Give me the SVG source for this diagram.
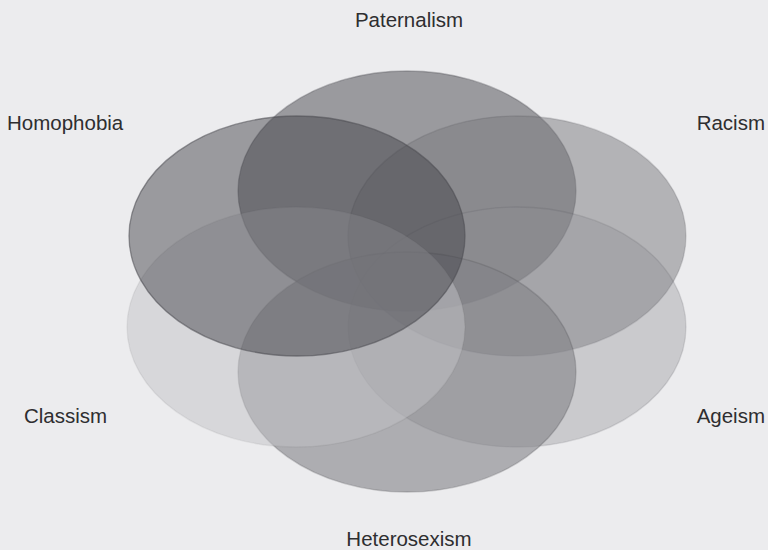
<svg xmlns="http://www.w3.org/2000/svg" width="768" height="550" viewBox="0 0 768 550">
<style>
.set{stroke:#4a4a50;stroke-width:1.3}
.lbl{font-family:"Liberation Sans",Arial,sans-serif;font-size:20.5px;fill:#2e2e30}
</style>
<rect width="768" height="550" fill="#ececee"/>
<g id="paternalism"><ellipse class="set" cx="407" cy="191" rx="169" ry="120" fill="#414147" fill-opacity="0.48" stroke-opacity="0.35"/></g>
<g id="racism"><ellipse class="set" cx="517" cy="236" rx="169" ry="120" fill="#7b7b80" fill-opacity="0.51" stroke-opacity="0.2"/></g>
<g id="ageism"><ellipse class="set" cx="517" cy="327" rx="169" ry="120" fill="#8e8e93" fill-opacity="0.36" stroke-opacity="0.15"/></g>
<g id="heterosexism"><ellipse class="set" cx="407" cy="372" rx="169" ry="120" fill="#828287" fill-opacity="0.59" stroke-opacity="0.25"/></g>
<g id="classism"><ellipse class="set" cx="296" cy="327" rx="169" ry="120" fill="#c2c2c6" fill-opacity="0.5" stroke-opacity="0.08"/></g>
<g id="homophobia"><ellipse class="set" cx="297" cy="236" rx="168" ry="120" fill="#414147" fill-opacity="0.48" stroke-opacity="0.55"/></g>
<g id="labels">
<text class="lbl" x="409" y="27" text-anchor="middle">Paternalism</text>
<text class="lbl" x="7" y="130">Homophobia</text>
<text class="lbl" x="765" y="130" text-anchor="end">Racism</text>
<text class="lbl" x="24" y="423">Classism</text>
<text class="lbl" x="765" y="423" text-anchor="end">Ageism</text>
<text class="lbl" x="409" y="546" text-anchor="middle">Heterosexism</text>
</g>
</svg>
